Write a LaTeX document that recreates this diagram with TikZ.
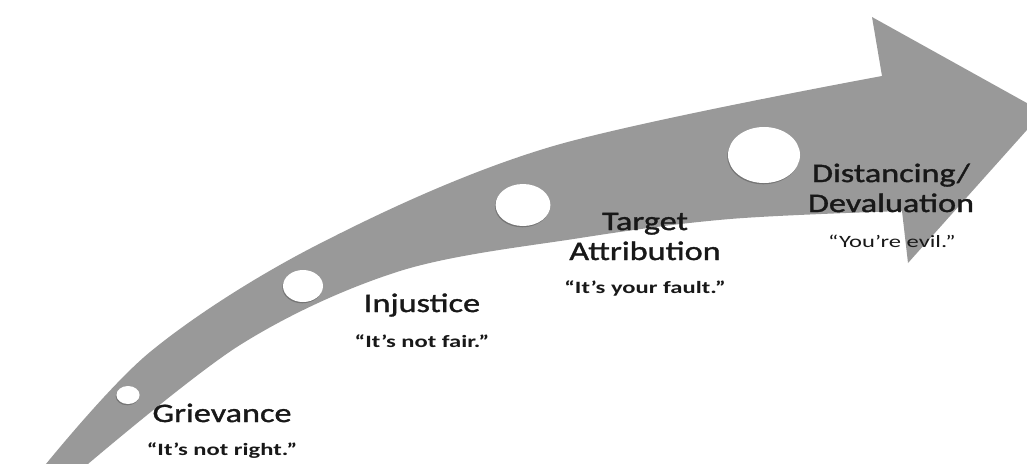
\documentclass[tikz,border=0pt]{standalone}
\usepackage{fontspec}
\usepackage{xcolor}
\usepackage{tikz}
\usetikzlibrary{shapes.geometric, shadows}

\newfontfamily\headfont[FakeStretch=1.28, FakeBold=1.3]{Carlito}
\newfontfamily\quotefont[FakeStretch=1.42]{Carlito}
\definecolor{arrowgray}{RGB}{153,153,153}
\definecolor{inktext}{RGB}{24,24,24}

\begin{document}
\begin{tikzpicture}[
    x=0.025cm, y=-0.025cm,
    stage/.style={ellipse, fill=white, inner sep=0pt, drop shadow={shadow xshift=-0.5pt, shadow yshift=-0.9pt, fill=black!60, opacity=0.7}},
    heading/.style={anchor=base, align=center, text=inktext, inner sep=0pt, font=\headfont\fontsize{19}{21.3}\selectfont},
    quote/.style={anchor=base, text=inktext, inner sep=0pt, font=\quotefont\bfseries\fontsize{12.3}{14}\selectfont}
]
    \useasboundingbox (0,0) rectangle (1027,463);
    \clip (0,0) rectangle (1027,463);

    % curved arrow
    \fill[arrowgray] plot[smooth, tension=0.55] coordinates {(37,475) (150,352) (317,245) (550,147) (882,76)}
        -- (872,17) -- (1043,112) -- (908,263) -- (902,211)
        -- plot[smooth, tension=0.55] coordinates {(902,211) (730,219) (580,238) (400,271) (240,345) (75,475)}
        -- cycle;

    % stages
    \node[stage, minimum width=0.58cm, minimum height=0.45cm] (grievdot) at (128,395) {};
    \node[stage, minimum width=1.0cm, minimum height=0.8cm] (injdot) at (303,286) {};
    \node[stage, minimum width=1.37cm, minimum height=1.05cm] (targetdot) at (523,205) {};
    \node[stage, minimum width=1.8cm, minimum height=1.4cm] (distdot) at (764,155) {};

    % labels
    \node[heading] (griev) at (222,422) {Grievance};
    \node[quote] (grievq) at (222,455) {“It’s not right.”};
    \node[heading] (inj) at (422,312) {Injustice};
    \node[quote] (injq) at (422,347) {“It’s not fair.”};
    \node[heading] (target) at (645,260) {Target\\Attribution};
    \node[quote] (targetq) at (645,293) {“It’s your fault.”};
    \node[heading] (dist) at (891,212) {Distancing/\\Devaluation};
    \node[quote, font=\quotefont\fontsize{12.3}{14}\selectfont] (distq) at (892,247) {“You’re evil.”};
\end{tikzpicture}
\end{document}
